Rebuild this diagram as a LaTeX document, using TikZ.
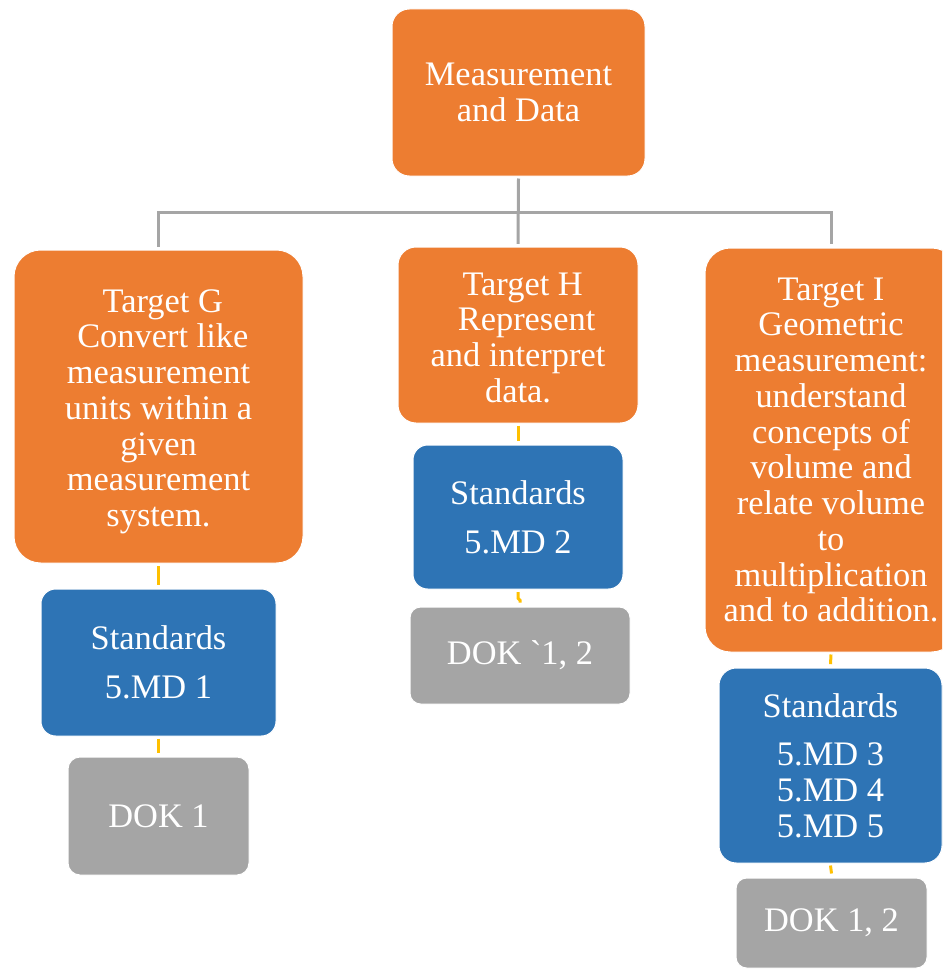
\documentclass[tikz,border=0pt]{standalone}
\usepackage{fontspec}
\setmainfont{Liberation Serif}
\newfontfamily\rawserif{Liberation Serif}[Ligatures=TeXOff]
\definecolor{orgc}{HTML}{ED7D31}
\definecolor{bluc}{HTML}{2E74B5}
\definecolor{gryc}{HTML}{A5A5A5}
\definecolor{yelc}{HTML}{FFC000}
\newcommand{\boxfont}{\fontsize{25.8pt}{26.8pt}\selectfont}
\tikzset{
  basebox/.style={rectangle, draw=white, line width=0.75pt, text=white, align=center, inner sep=0pt, font=\boxfont},
  obox/.style={basebox, fill=orgc},
  bbox/.style={basebox, fill=bluc},
  gbox/.style={basebox, fill=gryc},
  gline/.style={draw=gryc, line width=2.25pt},
  yline/.style={draw=yelc, line width=2.25pt}
}
\begin{document}
\begin{tikzpicture}[x=0.75pt,y=-0.75pt]
\useasboundingbox (0,0) rectangle (942,970);
\clip (0,0) rectangle (942,970);
% top
\node[obox, minimum width=189.75pt, minimum height=125.25pt, rounded corners=13pt] (top) at (518.5,92.5) {Measurement\\and Data};
% targets
\node[obox, minimum width=216.75pt, minimum height=234.75pt, rounded corners=20pt] (G) at (158.5,406.5)
  {\rule{0pt}{24.8pt}\hspace*{0.25em}Target G\\\hspace*{0.25em}Convert like\\measurement\\units within a\\given\\measurement\\system.};
\node[obox, minimum width=180pt, minimum height=132pt, rounded corners=13.5pt] (H) at (518,335)
  {\rule{0pt}{21.1pt}\hspace*{0.27em}Target H\\\hspace*{0.5em}Represent\\and interpret\\data.};
\node[obox, minimum width=189pt, minimum height=303pt, rounded corners=19pt] (I) at (831,450)
  {Target I\\Geometric\\measurement:\\understand\\concepts of\\volume and\\relate volume\\to\\multiplication\\and to addition.};
% standards
\node[bbox, minimum width=176.25pt, minimum height=110.25pt, rounded corners=11pt] (Gstd) at (158.5,662.5) {Standards\\[9.75pt]5.MD 1};
\node[bbox, minimum width=157.5pt, minimum height=108pt, rounded corners=11pt] (Hstd) at (518,517) {Standards\\[9.75pt]5.MD 2};
\node[bbox, minimum width=167.25pt, minimum height=146.25pt, rounded corners=13pt] (Istd) at (830.5,765.5) {Standards\\[9.75pt]5.MD 3\\5.MD 4\\5.MD 5};
% DOK
\node[gbox, minimum width=135.75pt, minimum height=88.5pt, rounded corners=9pt] (Gdok) at (158.5,816) {DOK 1};
\node[gbox, minimum width=165pt, minimum height=72.75pt, rounded corners=8pt] (Hdok) at (520,655.5) {DOK {\rawserif\char96}1, 2};
\node[gbox, minimum width=143.25pt, minimum height=67.5pt, rounded corners=8pt] (Idok) at (831.5,923) {DOK 1, 2};
% tree connectors
\coordinate (hb) at (518.5,212);
\draw[gline] ([yshift=-1.5pt]top.south) -- ([yshift=2pt]H.north);
\draw[gline] ([yshift=2pt]G.north) |- (hb) -| ([yshift=3pt]I.north);
% yellow connectors
\draw[yline] ([yshift=-2pt]G.south) -- ([yshift=3pt]Gstd.north);
\draw[yline] ([yshift=-1.5pt]Gstd.south) -- ([yshift=3pt]Gdok.north);
\draw[yline] ([yshift=-1.5pt]H.south) -- ([yshift=2.5pt]Hstd.north);
\draw[yline] ([yshift=-2pt]Hstd.south) -- ++(0,6) -- ++(2,2) -- ([yshift=3pt]Hdok.north);
\draw[yline] ([yshift=-1.5pt]I.south) -- ([yshift=2.5pt]Istd.north);
\draw[yline] ([yshift=-1.5pt]Istd.south) -- ([yshift=3pt]Idok.north);
\end{tikzpicture}
\end{document}
